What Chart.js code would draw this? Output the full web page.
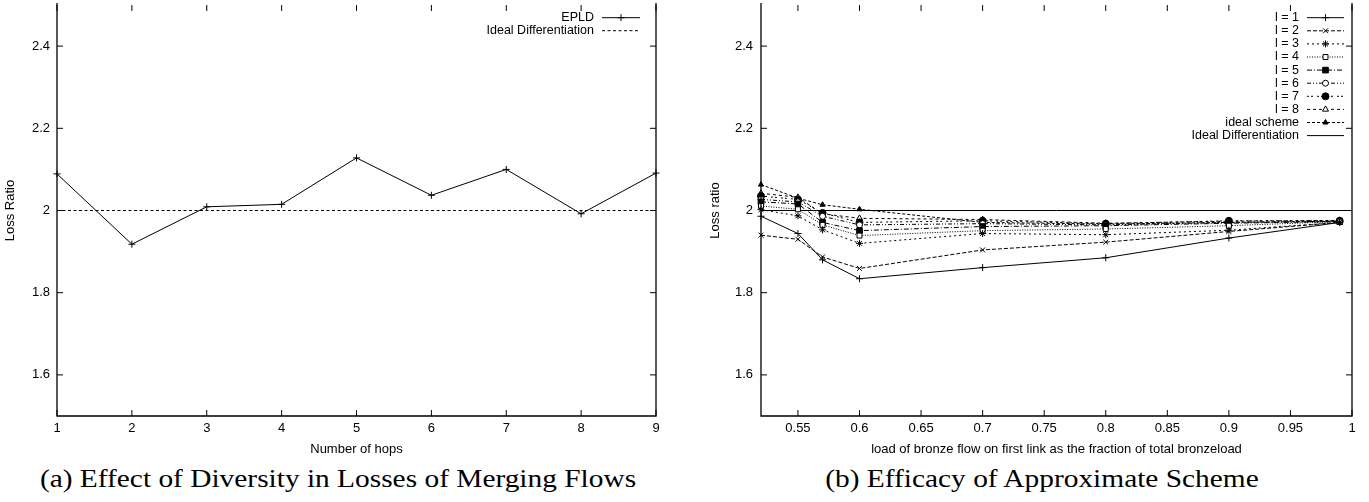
<!DOCTYPE html>
<html lang="en">
<head>
  <meta charset="UTF-8">
  <title>Loss Ratio</title>
  <script src="https://cdn.jsdelivr.net/npm/chart.js"></script>
  <style>
    body { margin: 0; background: #fff; }
    .page { position: relative; width: 1369px; height: 502px; overflow: hidden; }
    .plot { position: absolute; top: 0; }
    .caption {
      position: absolute; top: 464px; width: 700px; text-align: center;
      font-family: "Liberation Serif", "Times New Roman", serif; font-size: 26px; color: #000;
      transform: scaleX(1.13); transform-origin: center;
    }
  </style>
</head>
<body>
<div class="page">
  <div class="plot" style="left:0"><canvas id="hopsChart" width="680" height="462"></canvas></div>
  <div class="plot" style="left:680px"><canvas id="loadChart" width="689" height="462"></canvas></div>
  <div class="caption" style="left:-12px">(a) Effect of Diversity in Losses of Merging Flows</div>
  <div class="caption" style="left:692px">(b) Efficacy of Approximate Scheme</div>
</div>

<script>
// ---- data (a) ----
const hops = [1, 2, 3, 4, 5, 6, 7, 8, 9];
const epld = [2.089, 1.918, 2.009, 2.015, 2.128, 2.037, 2.100, 1.992, 2.091];
const idealRatio = 2;
const lossTicks = [1.6, 1.8, 2, 2.2, 2.4];

// ---- data (b) ----
const loadX = [0.52, 0.55, 0.57, 0.6, 0.7, 0.8, 0.9, 0.99];
const l1 = [1.986, 1.944, 1.880, 1.834, 1.861, 1.885, 1.933, 1.971];
const l2 = [1.940, 1.930, 1.887, 1.859, 1.904, 1.923, 1.949, 1.971];
const l3 = [2.002, 1.987, 1.953, 1.920, 1.944, 1.941, 1.952, 1.971];
const l4 = [2.011, 2.003, 1.965, 1.939, 1.951, 1.955, 1.963, 1.973];
const l5 = [2.021, 2.016, 1.971, 1.951, 1.961, 1.963, 1.969, 1.973];
const l6 = [2.027, 2.021, 1.986, 1.965, 1.968, 1.965, 1.971, 1.974];
const l7 = [2.035, 2.027, 1.994, 1.971, 1.975, 1.968, 1.975, 1.975];
const l8 = [2.042, 2.032, 1.992, 1.981, 1.978, 1.969, 1.974, 1.976];
const idealScheme = [2.063, 2.030, 2.014, 2.003, 1.971, 1.967, 1.971, 1.974];
const loadMin = 0.52, loadMax = 1;
const loadTicks = [0.55, 0.6, 0.65, 0.7, 0.75, 0.8, 0.85, 0.9, 0.95, 1];

const sans = "'Liberation Sans', Arial, sans-serif";
const fmt = v => String(+(+v).toFixed(2));
const pts = (xs, ys) => xs.map((x, i) => ({ x: x, y: ys[i] }));

// gnuplot-like frame with inward ticks on all sides
const frame = {
  id: 'frame',
  afterDatasetsDraw(chart) {
    const { ctx, chartArea: a, scales: { x, y } } = chart;
    ctx.save();
    ctx.strokeStyle = '#000';
    ctx.lineWidth = 1.3;
    ctx.beginPath();
    ctx.moveTo(a.left, a.top - 2); ctx.lineTo(a.left, a.bottom);
    ctx.lineTo(a.right, a.bottom); ctx.lineTo(a.right, a.top - 2);
    ctx.stroke();
    ctx.lineWidth = 1;
    ctx.beginPath();
    x.ticks.forEach(t => {
      const px = x.getPixelForValue(t.value);
      ctx.moveTo(px, a.bottom); ctx.lineTo(px, a.bottom - 6);
      ctx.moveTo(px, a.top); ctx.lineTo(px, a.top + 6);
    });
    y.ticks.forEach(t => {
      const py = y.getPixelForValue(t.value);
      ctx.moveTo(a.left, py); ctx.lineTo(a.left + 6, py);
      ctx.moveTo(a.right, py); ctx.lineTo(a.right - 6, py);
    });
    ctx.stroke();
    ctx.restore();
  }
};

// key in the top right corner: label, then line sample with its marker
const gnuLegend = {
  id: 'gnuLegend',
  afterDatasetsDraw(chart, args, o) {
    const { ctx, chartArea: a } = chart;
    ctx.save();
    ctx.font = o.font;
    ctx.textAlign = 'right';
    ctx.textBaseline = 'middle';
    chart.data.datasets.forEach((ds, i) => {
      const y = a.top + o.top + i * o.row;
      ctx.fillStyle = '#000';
      ctx.fillText(ds.label, a.right - o.textGap, y);
      const x0 = a.right - o.lineFrom, x1 = a.right - o.lineTo;
      ctx.beginPath();
      ctx.setLineDash(ds.borderDash || []);
      ctx.lineWidth = ds.borderWidth;
      ctx.strokeStyle = '#000';
      ctx.moveTo(x0, y); ctx.lineTo(x1, y);
      ctx.stroke();
      ctx.setLineDash([]);
      if (ds.pointRadius > 0 && Chart.helpers && Chart.helpers.drawPoint) {
        ctx.fillStyle = ds.pointBackgroundColor;
        ctx.lineWidth = 1;
        Chart.helpers.drawPoint(ctx, { pointStyle: ds.pointStyle, radius: ds.pointRadius, rotation: 0, borderWidth: 1 }, (x0 + x1) / 2, y);
      }
    });
    ctx.restore();
  }
};

function series(label, ys, dash, style, fill, radius) {
  return {
    label: label,
    data: pts(loadX, ys),
    borderColor: '#000',
    borderWidth: 1,
    borderDash: dash,
    pointStyle: style,
    pointRadius: radius || 3,
    pointBorderColor: '#000',
    pointBackgroundColor: fill,
    pointBorderWidth: 1
  };
}

function axes(xMin, xMax, xTicks, xTitle, yTitle, yWidth, yTitlePad, yTickPad) {
  return {
    x: {
      type: 'linear', min: xMin, max: xMax,
      grid: { display: false, drawTicks: false },
      border: { display: false },
      afterBuildTicks: s => { s.ticks = xTicks.map(v => ({ value: v })); },
      afterFit: s => { s.height = 46; s.paddingLeft = 0; s.paddingRight = 0; },
      ticks: { color: '#000', padding: 5, maxRotation: 0, autoSkip: false, font: { family: sans, size: 13 }, callback: fmt },
      title: { display: true, text: xTitle, color: '#000', padding: { top: 0, bottom: 5 }, font: { family: sans, size: 13 } }
    },
    y: {
      type: 'linear', min: 1.5, max: 2.5,
      grid: { display: false, drawTicks: false },
      border: { display: false },
      afterBuildTicks: s => { s.ticks = lossTicks.map(v => ({ value: v })); },
      afterFit: s => { s.width = yWidth; s.paddingTop = 0; s.paddingBottom = 0; },
      ticks: { color: '#000', padding: yTickPad, font: { family: sans, size: 13 }, callback: fmt },
      title: { display: true, text: yTitle, color: '#000', padding: { top: yTitlePad, bottom: 0 }, font: { family: sans, size: 13 } }
    }
  };
}

// ---- (a) Effect of Diversity in Losses of Merging Flows ----
new Chart(document.getElementById('hopsChart'), {
  type: 'line',
  data: {
    datasets: [
      {
        label: 'EPLD',
        data: pts(hops, epld),
        borderColor: '#000', borderWidth: 1, borderDash: [],
        pointStyle: 'cross', pointRadius: 3.5, pointBorderColor: '#000', pointBackgroundColor: '#000', pointBorderWidth: 1
      },
      {
        label: 'Ideal Differentiation',
        data: [{ x: hops[0], y: idealRatio }, { x: hops[hops.length - 1], y: idealRatio }],
        borderColor: '#000', borderWidth: 1, borderDash: [3, 2.5], pointRadius: 0
      }
    ]
  },
  options: {
    responsive: false, animation: false, clip: false,
    layout: { padding: { left: 0, right: 24, top: 0, bottom: 0 } },
    plugins: {
      legend: { display: false }, tooltip: { enabled: false },
      gnuLegend: { font: '12.5px ' + sans, top: 12.7, row: 13, textGap: 62, lineFrom: 54, lineTo: 16 }
    },
    scales: axes(1, 9, hops, 'Number of hops', 'Loss Ratio', 57, 3, 7)
  },
  plugins: [frame, gnuLegend]
});

// ---- (b) Efficacy of Approximate Scheme ----
new Chart(document.getElementById('loadChart'), {
  type: 'line',
  data: {
    datasets: [
      series('l = 1', l1, [], 'cross', '#000', 3.5),
      series('l = 2', l2, [4, 2], 'crossRot', '#000', 3.5),
      series('l = 3', l3, [2, 3], 'star', '#000', 3.5),
      series('l = 4', l4, [1, 1.5], 'rect', '#fff', 3.5),
      series('l = 5', l5, [5, 2, 1, 2], 'rect', '#000', 4),
      series('l = 6', l6, [4, 2, 1, 2, 1, 2], 'circle', '#fff', 3),
      series('l = 7', l7, [2, 2, 2, 4], 'circle', '#000', 3.5),
      series('l = 8', l8, [3, 3], 'triangle', '#fff', 3.5),
      series('ideal scheme', idealScheme, [3, 2], 'triangle', '#000', 3),
      {
        label: 'Ideal Differentiation',
        data: [{ x: loadMin, y: idealRatio }, { x: loadMax, y: idealRatio }],
        borderColor: '#000', borderWidth: 1, borderDash: [], pointRadius: 0
      }
    ]
  },
  options: {
    responsive: false, animation: false, clip: false,
    layout: { padding: { left: 0, right: 17, top: 0, bottom: 0 } },
    plugins: {
      legend: { display: false }, tooltip: { enabled: false },
      gnuLegend: { font: '12.5px ' + sans, top: 12.7, row: 13.1, textGap: 53, lineFrom: 45, lineTo: 8 }
    },
    scales: axes(loadMin, loadMax, loadTicks,
      'load of bronze flow on first link as the fraction of total bronzeload', 'Loss ratio', 81, 28, 8)
  },
  plugins: [frame, gnuLegend]
});
</script>
</body>
</html>
